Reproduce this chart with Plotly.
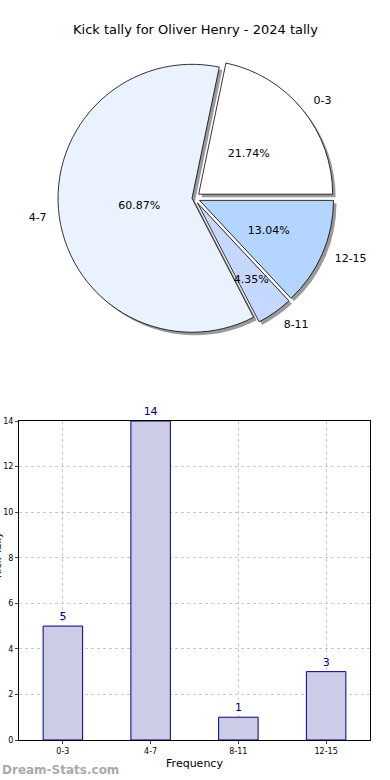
import plotly.graph_objects as go

categories = ["0-3", "4-7", "8-11", "12-15"]
kicks = [5, 14, 1, 3]
pie_colors = ["#FFFFFF", "#EBF2FF", "#C6D8FF", "#B3D5FF"]
y_ticks = [0, 2, 4, 6, 8, 10, 12, 14]
title_text = "Kick tally for Oliver Henry - 2024 tally"

W, H = 390, 780
font = "DejaVu Sans"

# first slice starts at 3 o'clock and runs counterclockwise (matplotlib style)
rot = 90 - 360 * kicks[0] / sum(kicks)

pull = [0.045, 0.015, 0.045, 0.045]
cx, cy, half = 194, 198, 140


def dom(h, dx=0, dy=0):
    return dict(x=[(cx - h + dx) / W, (cx + h + dx) / W],
                y=[1 - (cy + h + dy) / H, 1 - (cy - h + dy) / H])


fig = go.Figure()

common = dict(labels=categories, values=kicks, sort=False,
              direction="counterclockwise", rotation=rot, pull=pull,
              showlegend=False)

# shadow
fig.add_trace(go.Pie(
    **common, textinfo="none", hoverinfo="skip",
    marker=dict(colors=["rgba(120,120,120,0.75)"] * 4, line=dict(width=0)),
    domain=dom(half, 3, 3),
))

# main pie
fig.add_trace(go.Pie(
    **common, textinfo="none",
    marker=dict(colors=pie_colors, line=dict(color="black", width=0.8)),
    domain=dom(half),
))

# percentages (transparent inner pie)
fig.add_trace(go.Pie(
    **common, textinfo="percent", texttemplate="%{percent:.2%}",
    textposition="inside", insidetextorientation="horizontal",
    textfont=dict(family=font, size=11, color="black"), hoverinfo="skip",
    marker=dict(colors=["rgba(0,0,0,0)"] * 4, line=dict(width=0)),
    domain=dom(half * 0.8),
))

# outside labels
fig.add_trace(go.Pie(
    **common, textinfo="label", textposition="outside",
    textfont=dict(family=font, size=11, color="black"),
    hoverinfo="skip",
    marker=dict(colors=["rgba(0,0,0,0)"] * 4, line=dict(width=0)),
    domain=dom(half * 1.07), automargin=False,
))

# bar chart
fig.add_trace(go.Bar(
    x=categories, y=kicks, width=0.45,
    marker=dict(color="#CCCCE6", line=dict(color="#000080", width=1)),
    text=[str(v) for v in kicks], textposition="outside",
    textfont=dict(family=font, size=11, color="#000080"),
    cliponaxis=False, showlegend=False, xaxis="x", yaxis="y",
))

grid = dict(showgrid=True, gridcolor="#C8C8C8", griddash="dot", gridwidth=1)
fig.update_layout(
    width=W, height=H, margin=dict(l=0, r=0, t=0, b=0, autoexpand=False),
    paper_bgcolor="white", plot_bgcolor="white",
    font=dict(family=font, color="black"),
    uniformtext=dict(minsize=11, mode="show"),
    xaxis=dict(domain=[19 / W, 370 / W], range=[-0.5, 3.5], type="category",
               showline=True, linecolor="black", mirror=True, ticks="outside",
               ticklen=3, tickfont=dict(size=8), anchor="y", automargin=False,
               **grid,
               title=dict(text="Frequency", font=dict(size=11), standoff=4)),
    yaxis=dict(domain=[1 - 740 / H, 1 - 421 / H], range=[0, 14], tickvals=y_ticks,
               showline=True, linecolor="black", mirror=True, ticks="outside",
               ticklen=3, tickfont=dict(size=8), anchor="x", zeroline=False,
               automargin=False, **grid),
    annotations=[
        dict(text=title_text, x=0.5, y=1 - 30 / H, xref="paper", yref="paper",
             yanchor="middle", showarrow=False, font=dict(size=13, family=font)),
        dict(text="Kick Tally", x=0, y=1 - 580 / H, xref="paper", yref="paper",
             textangle=-90, showarrow=False, xanchor="center", xshift=-3,
             font=dict(size=10, family=font)),
        dict(text="<b>Dream-Stats.com</b>", x=0, y=1 - 770 / H, xref="paper",
             yref="paper", xanchor="left", yanchor="middle", showarrow=False,
             font=dict(size=12, family=font, color="#AAAAAA")),
    ],
)

fig.write_html("out.html", config={"displayModeBar": False},
               post_script="document.body.style.margin='0';document.body.style.overflow='hidden';")
